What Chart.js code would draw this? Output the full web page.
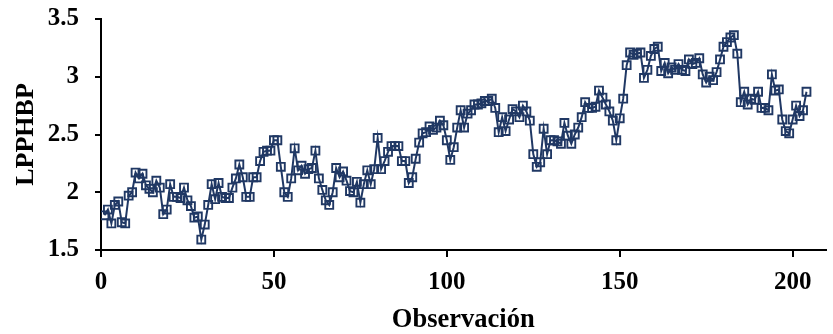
<!DOCTYPE html>
<html lang="es">
<head>
  <meta charset="UTF-8" />
  <title>LPPHBP por observación</title>
  <script src="https://cdn.jsdelivr.net/npm/chart.js"></script>
  <style>
    html, body { margin: 0; padding: 0; background: #fff; }
    #wrap { width: 833px; height: 334px; }
  </style>
</head>
<body>
  <div id="wrap"><canvas id="serie"></canvas></div>

  <script>
    // LPPHBP, observaciones 1..204
    const lpphbp = [
      1.80, 1.85, 1.73, 1.89, 1.92, 1.74, 1.73, 1.97, 2.00, 2.17,
      2.12, 2.16, 2.06, 2.03, 2.00, 2.10, 2.04, 1.81, 1.85, 2.07,
      1.96, 1.96, 1.95, 2.04, 1.93, 1.88, 1.78, 1.79, 1.59, 1.72,
      1.89, 2.07, 1.94, 2.08, 1.96, 1.95, 1.95, 2.04, 2.12, 2.24,
      2.13, 1.96, 1.96, 2.13, 2.13, 2.27, 2.35, 2.36, 2.36, 2.45,
      2.45, 2.22, 2.00, 1.96, 2.12, 2.38, 2.19, 2.23, 2.16, 2.20,
      2.21, 2.36, 2.12, 2.02, 1.93, 1.89, 2.00, 2.21, 2.13, 2.18,
      2.10, 2.01, 2.00, 2.09, 1.91, 2.07, 2.19, 2.07, 2.20, 2.47,
      2.20, 2.27, 2.35, 2.40, 2.40, 2.40, 2.27, 2.27, 2.08, 2.13,
      2.29, 2.43, 2.51, 2.52, 2.57, 2.54, 2.56, 2.62, 2.58, 2.45,
      2.28, 2.39, 2.56, 2.71, 2.56, 2.68, 2.71, 2.76, 2.76, 2.77,
      2.79, 2.79, 2.81, 2.73, 2.52, 2.65, 2.53, 2.63, 2.72, 2.70,
      2.65, 2.75, 2.70, 2.62, 2.33, 2.22, 2.26, 2.55, 2.33, 2.45,
      2.45, 2.44, 2.42, 2.60, 2.49, 2.42, 2.50, 2.56, 2.65, 2.78,
      2.73, 2.73, 2.74, 2.88, 2.82, 2.76, 2.70, 2.62, 2.45, 2.64,
      2.81, 3.10, 3.21, 3.19, 3.20, 3.21, 2.99, 3.06, 3.18, 3.24,
      3.26, 3.05, 3.12, 3.03, 3.08, 3.06, 3.11, 3.06, 3.05, 3.15,
      3.11, 3.12, 3.16, 3.02, 2.95, 3.00, 2.97, 3.04, 3.15, 3.26,
      3.30, 3.34, 3.36, 3.20, 2.78, 2.87, 2.76, 2.81, 2.80, 2.87,
      2.73, 2.73, 2.71, 3.02, 2.88, 2.89, 2.63, 2.53, 2.51, 2.63,
      2.75, 2.66, 2.71, 2.87
    ];

    const xTicks = [0, 50, 100, 150, 200];
    const yTicks = [1.5, 2, 2.5, 3, 3.5];

    const navy = '#203864';
    const serif = "'Liberation Serif', 'Times New Roman', serif";

    const puntos = lpphbp.map((v, i) => ({ x: i + 1, y: v }));

    new Chart(document.getElementById('serie').getContext('2d'), {
      type: 'line',
      data: {
        datasets: [{
          data: puntos,
          borderColor: navy,
          borderWidth: 2,
          tension: 0,
          pointStyle: 'rect',
          pointRadius: 5.6,
          pointBorderWidth: 1.9,
          pointBorderColor: navy,
          pointBackgroundColor: 'rgba(255,255,255,0)'
        }]
      },
      options: {
        responsive: true,
        maintainAspectRatio: false,
        animation: false,
        layout: { padding: { top: 19, right: 0, bottom: 0, left: 0 } },
        plugins: { legend: { display: false }, tooltip: { enabled: false } },
        scales: {
          x: {
            type: 'linear',
            min: 0,
            max: 209.5,
            afterBuildTicks: s => { s.ticks = xTicks.map(v => ({ value: v })); },
            afterFit: s => {
              s.height = 84;
              s.paddingLeft = 0;
              s.paddingRight = 0;
            },
            border: { display: true, color: '#000', width: 2 },
            grid: { drawOnChartArea: false, drawTicks: true, tickLength: 7, color: '#000', lineWidth: 2 },
            ticks: {
              color: '#000',
              padding: 11,
              maxRotation: 0,
              callback: v => String(v),
              font: { family: serif, size: 25, weight: 'bold' }
            },
            title: {
              display: true,
              text: 'Observación',
              color: '#000',
              padding: { top: 0, bottom: 0 },
              font: { family: serif, size: 26.5, weight: 'bold', lineHeight: 1.05 }
            }
          },
          y: {
            min: 1.5,
            max: 3.5,
            afterBuildTicks: s => { s.ticks = yTicks.map(v => ({ value: v })); },
            afterFit: s => {
              s.width = 101;
              s.paddingTop = 0;
              s.paddingBottom = 0;
            },
            border: { display: true, color: '#000', width: 2 },
            grid: { drawOnChartArea: false, drawTicks: true, tickLength: 6, color: '#000', lineWidth: 2 },
            ticks: {
              color: '#000',
              padding: 16,
              callback: v => String(v),
              font: { family: serif, size: 25, weight: 'bold' }
            },
            title: {
              display: true,
              text: 'LPPHBP',
              color: '#000',
              padding: { top: 11, bottom: 0 },
              font: { family: serif, size: 26, weight: 'bold' }
            }
          }
        }
      }
    });
  </script>
</body>
</html>
